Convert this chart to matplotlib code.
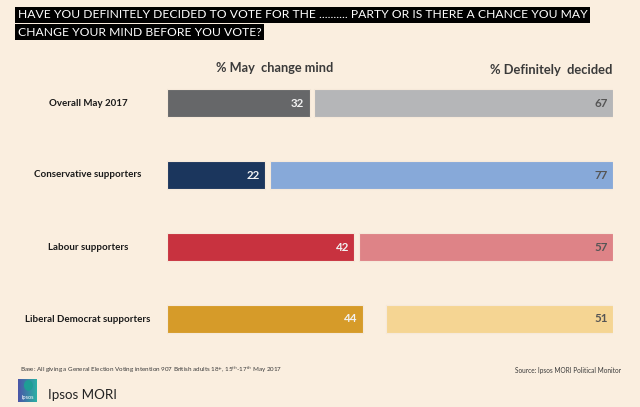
import matplotlib
matplotlib.use("Agg")
import matplotlib.pyplot as plt
import numpy as np
from matplotlib import font_manager

# Data
groups = ["Overall May 2017", "Conservative supporters", "Labour supporters",
          "Liberal Democrat supporters"]
may_change = [32, 22, 42, 44]
definitely = [67, 77, 57, 51]
dark_cols = ["#666769", "#1B365D", "#C8323F", "#D69B29"]
light_cols = ["#B5B6B8", "#87A9D9", "#DE8387", "#F5D593"]

title_lines = ["HAVE YOU DEFINITELY DECIDED TO VOTE FOR THE .......... PARTY OR IS THERE A CHANCE YOU MAY",
               "CHANGE YOUR MIND BEFORE YOU VOTE?"]
base_note = "Base: All giving a General Election Voting intention 907 British adults 18+, 15$^{th}$-17$^{th}$ May 2017"
source_note = "Source: Ipsos MORI Political Monitor"

BG = "#FAEEDF"


def pick(names):
    for n in names:
        try:
            font_manager.findfont(n, fallback_to_default=False)
            return n
        except Exception:
            pass
    return "DejaVu Sans"


body_font = pick(["Lato", "Open Sans", "DejaVu Sans"])
title_font = pick(["Liberation Sans Narrow", "Lato"])
plt.rcParams["font.family"] = [body_font, "DejaVu Sans"]

W, H = 640, 407
fig = plt.figure(figsize=(W / 100, H / 100), dpi=100, facecolor=BG)

# main bar axes: x 0..100 maps to px 167..613, rows every 72 px
ax = fig.add_axes([167 / W, 1 - 355 / H, 446 / W, 288 / H])
ax.set_facecolor(BG)
ax.patch.set_alpha(0)
y = np.arange(len(groups))
bh = 0.40
ax.barh(y, may_change, height=bh, color=dark_cols, edgecolor="#F6E9DA", linewidth=0.8)
right_start = [100 - d for d in definitely]
ax.barh(y, definitely, left=right_start, height=bh, color=light_cols,
        edgecolor="#F6E9DA", linewidth=0.8)
for i in range(len(groups)):
    ax.text(may_change[i] - 1.2, y[i], str(may_change[i]), ha="right", va="center",
            fontsize=8.3, fontweight="bold", color="#F2F2F2")
    ax.text(98.8, y[i], str(definitely[i]), ha="right", va="center",
            fontsize=8.3, fontweight="bold", color="#555555")
ax.set_xlim(0, 100)
ax.set_ylim(len(groups) - 0.5, -0.5)
ax.axis("off")

# category labels
for i, g in enumerate(groups):
    fig.text(88 / W, 1 - (103 + 72 * i) / H, g, ha="center", va="center",
             fontsize=7, fontweight="bold", color="#1A1A1A")

# column headers
fig.text(275 / W, 1 - 68 / H, "% May  change mind", ha="center", va="center",
         fontsize=9.2, fontweight="bold", color="#3A3A3A")
fig.text(612 / W, 1 - 70 / H, "% Definitely  decided", ha="right", va="center",
         fontsize=9.3, fontweight="bold", color="#3A3A3A")

# title with black band behind each line
for k, line in enumerate(title_lines):
    fig.text(18 / W, 1 - (15 + 17 * k) / H, line, ha="left", va="center",
             fontsize=8.7, color="white", family=[title_font, "DejaVu Sans"],
             bbox=dict(facecolor="black", edgecolor="none", pad=1.8))

# footer
fig.text(20 / W, 1 - 370 / H, base_note, ha="left", va="center",
         fontsize=4.5, color="#3A3A3A")
fig.text(621 / W, 1 - 370 / H, source_note, ha="right", va="center",
         fontsize=4.7, color="#3A3A3A")

# logo
lax = fig.add_axes([18 / W, 1 - 402 / H, 19 / W, 23 / H])
grad = np.linspace(0, 1, 50)[None, :]
lax.imshow(grad, aspect="auto", extent=(0, 1, 0, 1),
           cmap=matplotlib.colors.LinearSegmentedColormap.from_list("ip", ["#4B55A8", "#2AB0A4"]))
lax.add_patch(plt.Circle((0.55, 0.72), 0.2, color="#1E9E95"))
lax.text(0.5, 0.2, "Ipsos", ha="center", va="center", fontsize=4, color="white")
lax.set_xlim(0, 1)
lax.set_ylim(0, 1)
lax.axis("off")
fig.text(48 / W, 1 - 395 / H, "Ipsos MORI", ha="left", va="center",
         fontsize=9.6, color="#222222")

fig.savefig("out.png", dpi=100, facecolor=BG)
